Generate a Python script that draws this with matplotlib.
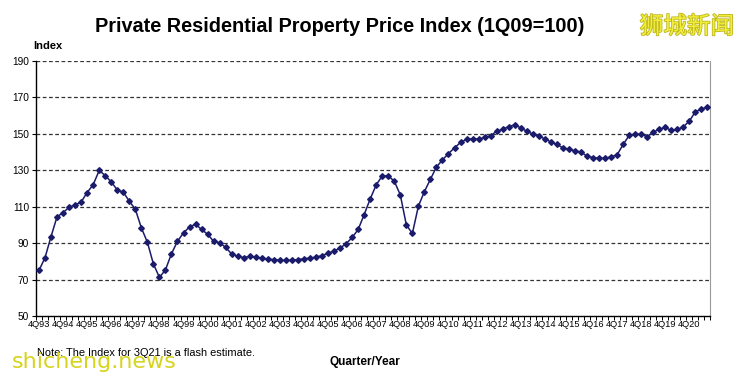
import matplotlib
matplotlib.use('Agg')
import matplotlib.pyplot as plt
import matplotlib.patheffects as pe
import numpy as np

# Fuente tipo Arial
plt.rcParams['font.family'] = ['Liberation Sans', 'DejaVu Sans']

titulo = 'Private Residential Property Price Index (1Q09=100)'
nota = 'Note: The Index for 3Q21 is a flash estimate.'

# Etiquetas del eje x (una por anio, cada 4 trimestres)
etiquetas_x = ['4Q93', '4Q94', '4Q95', '4Q96', '4Q97', '4Q98', '4Q99', '4Q00',
               '4Q01', '4Q02', '4Q03', '4Q04', '4Q05', '4Q06', '4Q07', '4Q08',
               '4Q09', '4Q10', '4Q11', '4Q12', '4Q13', '4Q14', '4Q15', '4Q16',
               '4Q17', '4Q18', '4Q19', '4Q20']

# Indice trimestral de 4Q93 a 3Q21
indice = [75.0, 82.0, 93.6, 104.5, 106.7, 109.7, 111.0, 112.6, 117.8, 122.1,
          129.9, 127.1, 123.6, 119.2, 118.0, 113.0, 108.6, 98.4, 90.5, 78.6,
          71.2, 75.3, 84.2, 91.0, 95.7, 98.9, 100.4, 97.5, 94.9, 91.0,
          90.2, 87.7, 84.0, 82.8, 82.1, 82.7, 82.4, 81.7, 81.3, 80.9,
          80.7, 80.5, 80.6, 81.0, 81.4, 81.8, 82.3, 83.2, 84.4, 85.7,
          87.3, 89.7, 93.1, 97.5, 105.7, 114.3, 122.0, 126.9, 126.9, 124.0,
          116.5, 100.0, 95.3, 110.3, 118.3, 125.1, 131.8, 135.7, 139.2, 142.3,
          145.3, 147.0, 147.3, 147.1, 148.0, 149.0, 151.5, 152.5, 154.0, 154.9,
          153.3, 151.4, 149.9, 148.8, 147.2, 145.6, 144.2, 142.3, 141.6, 140.7,
          140.0, 137.8, 137.0, 136.6, 136.6, 137.4, 138.5, 144.2, 149.1, 149.8,
          149.7, 148.5, 150.9, 152.6, 153.5, 151.9, 152.4, 153.9, 157.0, 162.2,
          163.5, 165.0]

fig = plt.figure(figsize=(7.37, 3.81), dpi=100)
ax = fig.add_axes([0.0488, 0.1706, 0.9152, 0.6693])

x = np.arange(len(indice))
color = '#1b1b6b'
ax.plot(x, indice, color=color, lw=1.1, marker='D', ms=2.9,
        mfc=color, mec=color, zorder=3)

# Ejes
ax.set_xlim(-0.5, len(indice) - 0.5)
ax.set_ylim(50, 190)
ax.set_yticks(range(50, 191, 20))
ax.tick_params(axis='y', labelsize=7.3, length=3, width=0.8, pad=2)
ax.set_xticks(x[::4])
ax.set_xticklabels(etiquetas_x, fontsize=6.7)
ax.set_xticks(np.arange(-0.5, len(indice), 1), minor=True)
ax.tick_params(axis='x', which='major', length=0, pad=3)
ax.tick_params(axis='x', which='minor', length=3, width=0.7)

# Lineas de la cuadricula
for v in range(70, 191, 20):
    ax.axhline(v, color='#333333', lw=0.9, ls=(0, (3, 2)), zorder=1)

ax.spines['top'].set_visible(False)
ax.spines['right'].set_color('#999999')
ax.spines['right'].set_linewidth(0.8)
ax.spines['left'].set_linewidth(1.0)
ax.spines['bottom'].set_linewidth(1.0)

# Textos
fig.text(340 / 737, 1 - 27 / 381, titulo, ha='center', va='center',
         fontsize=14.3, fontweight='bold')
fig.text(33 / 737, 1 - 46 / 381, 'Index', fontsize=8, fontweight='bold',
         va='center')
fig.text(37 / 737, 1 - 353 / 381, nota, fontsize=7.9, va='center')
fig.text(365 / 737, 1 - 362 / 381, 'Quarter/Year', fontsize=8.5,
         fontweight='bold', ha='center', va='center')

# Marcas de agua
fig.text(687 / 737, 1 - 27 / 381, '狮城新闻', fontsize=17, color='#f2ef3a',
         family=['Noto Sans CJK SC', 'DejaVu Sans'], ha='center', va='center',
         path_effects=[pe.withStroke(linewidth=1.2, foreground='#bdb520')])
fig.text(12 / 737, 1 - 362 / 381, 'shicheng.news', fontsize=16,
         color='#d6d41c', va='center', family=['DejaVu Sans'])

fig.savefig('out.png', dpi=100)
